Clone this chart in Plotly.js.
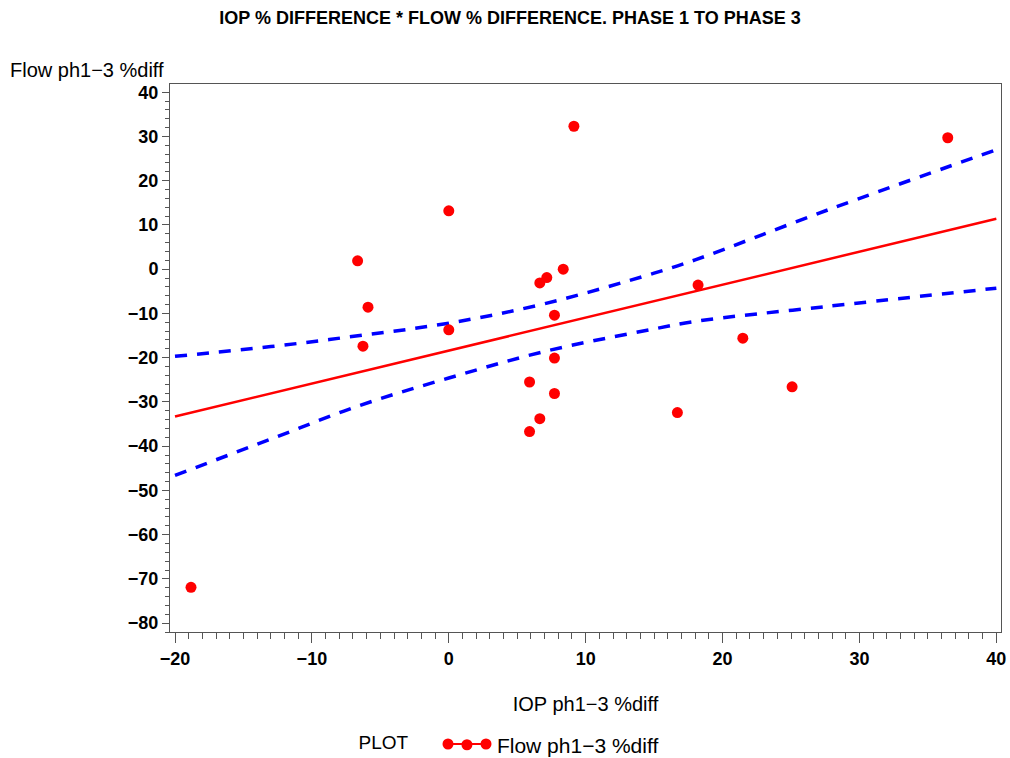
<!DOCTYPE html>
<html>
<head>
<meta charset="utf-8">
<script src="https://cdn.plot.ly/plotly-3.0.1.min.js"></script>
<style>html,body{margin:0;padding:0;background:#fff}#chart{width:1010px;height:758px}</style>
</head>
<body>
<div id="chart"></div>
<script>
// Observed data: IOP % diff (x) vs Flow % diff (y), phase 1 to phase 3
const iopDiff  = [-18.83, -6.66, -5.90, -6.27, 0.0, 0.0, 9.14, 6.65, 7.16, 8.36, 7.72, 7.72, 5.90, 7.72, 6.65, 5.90, 18.21, 21.48, 25.08, 16.70, 36.45];
const flowDiff = [-71.9, 1.9, -8.6, -17.4, 13.2, -13.7, 32.3, -3.1, -1.9, 0.0, -10.4, -20.1, -25.5, -28.1, -33.8, -36.7, -3.6, -15.6, -26.6, -32.4, 29.7];

// Regression line
const fitX = [-20, 40];
const fitY = [-33.3, 11.4];

// Confidence band
const ciX     = [-20, -13, -6.5, 0, 7, 15, 18, 27.7, 40];
const ciUpper = [-19.7, -17.5, -15.0, -12.2, -7.8, -0.9, 2.1, 13.4, 27.0];
const ciLower = [-46.6, -38.4, -30.8, -24.6, -18.6, -13.5, -11.8, -8.4, -4.3];

const xTicks = [-20, -10, 0, 10, 20, 30, 40];
const yTicks = [40, 30, 20, 10, 0, -10, -20, -30, -40, -50, -60, -70, -80];

const FONT = 'Liberation Sans, Arial, sans-serif';

const traces = [
  {x: ciX, y: ciUpper, mode: 'lines', line: {color: '#0000ff', width: 3.5, dash: '12px,10px', shape: 'spline'}, showlegend: false, hoverinfo: 'skip'},
  {x: ciX, y: ciLower, mode: 'lines', line: {color: '#0000ff', width: 3.5, dash: '12px,10px', shape: 'spline'}, showlegend: false, hoverinfo: 'skip'},
  {x: fitX, y: fitY, mode: 'lines', line: {color: '#ff0000', width: 2.5}, showlegend: false, hoverinfo: 'skip'},
  {x: iopDiff, y: flowDiff, mode: 'markers', name: 'Flow ph1\u22123 %diff', marker: {color: '#ff0000', size: 11}}
];

const axisCommon = {
  showgrid: false, zeroline: false, showline: true, mirror: true, automargin: false,
  linecolor: '#555', linewidth: 1, ticks: 'outside', tickcolor: '#555',
  tickfont: {family: FONT, size: 18, color: '#000', weight: 'bold'}
};

// legend key decoration (three connected dots), in paper coords of the 831x548 plot box
const PX = px => (px - 170) / 831;
const PY = py => (632 - py) / 548;
const keyY = 744, r = 5.5;
const keyShapes = [
  {type: 'line', xref: 'paper', yref: 'paper', x0: PX(448), x1: PX(486), y0: PY(keyY), y1: PY(keyY), line: {color: '#ff0000', width: 2}},
  {type: 'circle', xref: 'paper', yref: 'paper', x0: PX(448 - r), x1: PX(448 + r), y0: PY(keyY + r), y1: PY(keyY - r), fillcolor: '#ff0000', line: {width: 0}},
  {type: 'circle', xref: 'paper', yref: 'paper', x0: PX(486 - r), x1: PX(486 + r), y0: PY(keyY + r), y1: PY(keyY - r), fillcolor: '#ff0000', line: {width: 0}}
];

const layout = {
  width: 1010, height: 758,
  paper_bgcolor: '#fff', plot_bgcolor: '#fff',
  margin: {l: 170, r: 9, t: 84, b: 126},
  title: {text: 'IOP % DIFFERENCE * FLOW % DIFFERENCE. PHASE 1 TO PHASE 3',
          font: {family: FONT, size: 18, color: '#000', weight: 'bold'},
          x: 0.505, xanchor: 'center', y: 0.976, yanchor: 'middle'},
  xaxis: Object.assign({}, axisCommon, {
    range: [-20.365, 40.34], tickvals: xTicks, ticklen: 10,
    minor: {dtick: 1, ticklen: 6, ticks: 'outside', tickcolor: '#555'},
    title: {text: 'IOP ph1\u22123 %diff', font: {family: FONT, size: 20, color: '#000'}, standoff: 29}
  }),
  yaxis: Object.assign({}, axisCommon, {
    range: [-82.0, 41.85], tickvals: yTicks, ticklen: 7,
    minor: {dtick: 2, ticklen: 4, ticks: 'outside', tickcolor: '#555'}
  }),
  showlegend: true,
  legend: {orientation: 'h', xref: 'container', yref: 'container',
           x: 0.353, xanchor: 'left', y: 0.017, yanchor: 'middle', itemwidth: 50,
           title: {text: 'PLOT    ', font: {family: FONT, size: 19, color: '#000'}},
           font: {family: FONT, size: 21, color: '#000'}, bgcolor: 'rgba(0,0,0,0)'},
  shapes: keyShapes,
  annotations: [
    {text: 'Flow ph1\u22123 %diff', xref: 'paper', yref: 'paper', x: -0.195, y: 1.025,
     xanchor: 'left', yanchor: 'middle', showarrow: false,
     font: {family: FONT, size: 20, color: '#000'}}
  ]
};

Plotly.newPlot('chart', traces, layout, {displayModeBar: false, staticPlot: true});
</script>
</body>
</html>
